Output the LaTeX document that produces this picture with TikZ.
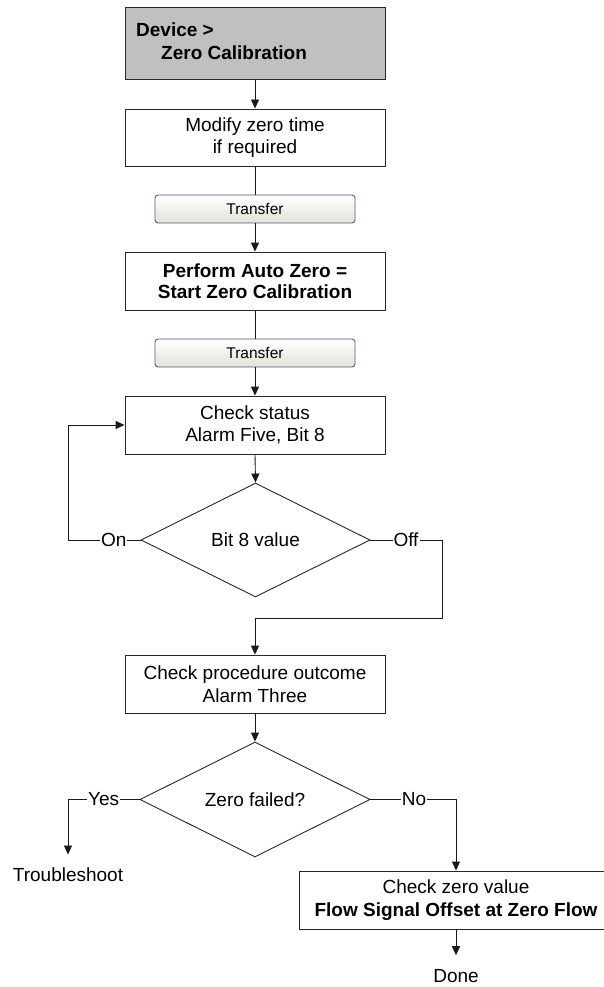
\documentclass[tikz,border=0pt]{standalone}
\usepackage{fontspec}
\setmainfont{Liberation Sans}
\usetikzlibrary{arrows.meta,shapes.geometric,positioning}
\definecolor{boxline}{RGB}{40,40,40}
\definecolor{graybox}{RGB}{192,192,192}
\definecolor{btnline}{RGB}{72,96,140}
\definecolor{btnbot}{RGB}{226,226,216}
\tikzset{
  mainfont/.style={font=\fontsize{19}{22.5}\selectfont},
  stepbox/.style={draw=boxline, line width=0.9pt, minimum width=260pt, inner sep=0pt, align=center, mainfont},
  btn/.style={draw=btnline, line width=0.9pt, rounded corners=3pt, minimum width=200pt, minimum height=28pt, inner sep=0pt,
    top color=white, bottom color=btnbot, font=\fontsize{15.5}{18}\selectfont},
  decide/.style={draw=boxline, line width=0.9pt, diamond, inner sep=0pt, mainfont},
  lbl/.style={fill=white, inner sep=1pt, mainfont},
  plain/.style={inner sep=0pt, mainfont},
  conn/.style={draw=black!90, line width=0.9pt},
  arr/.style={conn, -{Triangle[length=9pt,width=8pt]}}
}
\begin{document}
\begin{tikzpicture}[x=1pt,y=-1pt]
\useasboundingbox (0,0) rectangle (604,987);
\clip (0,0) rectangle (604,987);
\fill[white] (0,0) rectangle (604,987);

% top gray box
\node[stepbox, fill=graybox, minimum height=72pt] (dev) at (255,43) {};
\node[plain, anchor=west, align=left, font=\fontsize{19}{23}\selectfont\bfseries] (devtxt) at (136,41.7) {Device >\\\hspace*{25pt}Zero Calibration};

\node[stepbox, minimum height=57pt] (mod) at (255,137.5) {Modify zero time\\if required};
\node[btn] (tr1) at (255,209) {Transfer};
\node[stepbox, minimum height=58pt, font=\fontsize{19}{21.5}\selectfont\bfseries] (auto) at (255,281) {Perform Auto Zero =\\Start Zero Calibration};
\node[btn] (tr2) at (255,353) {Transfer};
\node[stepbox, minimum height=58pt] (chk) at (255,425) {Check status\\Alarm Five, Bit 8};
\node[decide, minimum width=229pt, minimum height=114pt] (dia1) at (255.5,540) {Bit 8 value};
\node[stepbox, minimum height=58pt] (proc) at (255,684) {Check procedure outcome\\Alarm Three};
\node[decide, minimum width=230pt, minimum height=115pt] (dia2) at (255,799.5) {Zero failed?};
\node[stepbox, minimum width=314pt, minimum height=58pt] (flow) at (456,900) {Check zero value\\\textbf{Flow Signal Offset at Zero Flow}};
\node[plain, anchor=base] (trb) at (68,881) {Troubleshoot};
\node[plain, anchor=base] (done) at (456,982) {Done};

% coordinates for bends
\coordinate (lc) at (68,540);
\coordinate (oc1) at (442,540);
\coordinate (oc2) at (442,618);

% connectors
\draw[arr] (dev.south) -- (mod.north);
\draw[conn] (mod.south) -- (tr1.north);
\draw[arr] (tr1.south) -- (auto.north);
\draw[conn] (auto.south) -- (tr2.north);
\draw[arr] (tr2.south) -- (chk.north);
\draw[arr] (chk.south) -- (dia1.north);
\draw[arr] (dia1.west) -- (lc) |- (chk.west);
\draw[arr] (dia1.east) -- (oc1) -- (oc2) -| (proc.north);
\draw[arr] (proc.south) -- (dia2.north);
\draw[arr] (dia2.west) -| ([yshift=12.5pt]trb.north);
\draw[arr] (dia2.east) -| (flow.north);
\draw[arr] (flow.south) -- ([yshift=13.5pt]done.north);

% labels on connectors
\node[lbl] (on) at (113.7,540) {On};
\node[lbl] (off) at (406,540) {Off};
\node[lbl] (yes) at (103.7,799.5) {Yes};
\node[lbl] (no) at (414,799.5) {No};
\end{tikzpicture}
\end{document}
